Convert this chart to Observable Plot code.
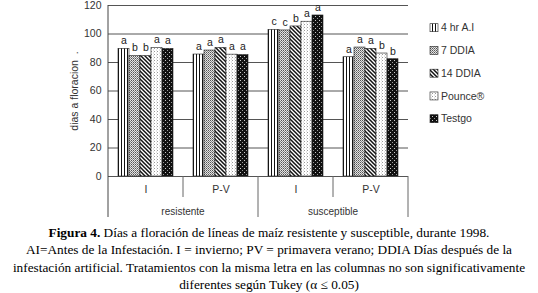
<!DOCTYPE html>
<html><head><meta charset="utf-8">
<script src="https://cdn.jsdelivr.net/npm/d3@7"></script>
<script src="https://cdn.jsdelivr.net/npm/@observablehq/plot@0.6"></script>
<style>
body{margin:0;background:#fff;width:538px;height:293px;overflow:hidden;}
#chart svg{display:block;}
#caption{font-family:"Liberation Serif","DejaVu Serif","Times New Roman",serif;font-size:13.3px;line-height:17.3px;text-align:center;color:#000;width:538px;margin:0;white-space:nowrap;}
</style></head>
<body>
<div id="chart"></div>
<div id="caption"><b>Figura 4.</b> Días a floración de líneas de maíz resistente y susceptible, durante 1998.<br>AI=Antes de la Infestación. I = invierno; PV = primavera verano; DDIA Días después de la<br>infestación artificial. Tratamientos con la misma letra en las columnas no son significativamente<br>diferentes según Tukey (α ≤ 0.05)</div>
<script>
const groups = ["resistente", "susceptible"];
const seasons = ["I", "P-V"];
const series = ["4 hr A.I", "7 DDIA", "14 DDIA", "Pounce®", "Testgo"];
const resI = [89.6, 84.5, 84.5, 90.2, 89.5];
const resPV = [85.6, 88.4, 90.2, 85.5, 85.2];
const susI = [102.9, 102.5, 105.3, 108.6, 113.0];
const susPV = [83.7, 90.5, 89.6, 86.3, 82.3];
const lettersResI = ["a", "b", "b", "a", "a"];
const lettersResPV = ["a", "a", "a", "a", "a"];
const lettersSusI = ["c", "c", "b", "a", "a"];
const lettersSusPV = ["a", "a", "a", "b", "b"];
const yTicks = [0, 20, 40, 60, 80, 100, 120];

const blocks = [
  {group: "resistente", season: "I", values: resI, letters: lettersResI},
  {group: "resistente", season: "P-V", values: resPV, letters: lettersResPV},
  {group: "susceptible", season: "I", values: susI, letters: lettersSusI},
  {group: "susceptible", season: "P-V", values: susPV, letters: lettersSusPV}
];
const data = blocks.flatMap(b => series.map((s, i) => ({
  cat: b.group + "|" + b.season, group: b.group, season: b.season,
  series: s, value: b.values[i], letter: b.letters[i]
})));
const cats = blocks.map(b => b.group + "|" + b.season);

const sans = "'Liberation Sans', Arial, sans-serif";
const marks = [
  Plot.gridY(yTicks, {stroke: "#555", strokeOpacity: 1, strokeWidth: 1}),
  Plot.axisY({ticks: yTicks, tickSize: 0, tickPadding: 7, fontSize: 10.5, fill: "#333",
    label: "dias a floracion\u00a0\u00a0.", labelAnchor: "center", labelArrow: "none", labelOffset: 38}),
  Plot.axisFx({anchor: "bottom", tickSize: 0, tickPadding: 9, fontSize: 10.5, fill: "#333", label: null,
    tickFormat: d => d.split("|")[1]})
];
series.forEach((s, i) => {
  marks.push(Plot.barY(data.filter(d => d.series === s), {
    fx: "cat", x: "series", y: "value", fill: `url(#pat${i})`, stroke: "#222", strokeWidth: 0.6
  }));
});
marks.push(Plot.text(data, {fx: "cat", x: "series", y: "value", text: "letter", dy: -8,
  fontSize: 10.5, fill: "#222", fontFamily: sans}));

const chart = Plot.plot({
  width: 538, height: 224,
  marginLeft: 107, marginRight: 130, marginTop: 5, marginBottom: 48,
  style: {fontFamily: sans, background: "#fff", overflow: "visible"},
  fx: {domain: cats, padding: 0, label: null, axis: null},
  x: {domain: series, paddingInner: 0, paddingOuter: 0.74, axis: null},
  y: {domain: [0, 120], axis: null, label: null},
  marks
});
document.getElementById("chart").appendChild(chart);

// patterns
const svg = d3.select(chart);
const defs = svg.insert("defs", ":first-child");
let p = defs.append("pattern").attr("id", "pat0").attr("patternUnits", "userSpaceOnUse").attr("width", 3).attr("height", 3);
p.append("rect").attr("width", 3).attr("height", 3).attr("fill", "#fff");
p.append("rect").attr("width", 1).attr("height", 3).attr("fill", "#111");
p = defs.append("pattern").attr("id", "pat1").attr("patternUnits", "userSpaceOnUse").attr("width", 2).attr("height", 2);
p.append("rect").attr("width", 2).attr("height", 2).attr("fill", "#e4e4e4");
p.append("rect").attr("width", 1).attr("height", 1).attr("fill", "#555");
p.append("rect").attr("x", 1).attr("y", 1).attr("width", 1).attr("height", 1).attr("fill", "#888");
p = defs.append("pattern").attr("id", "pat2").attr("patternUnits", "userSpaceOnUse").attr("width", 4).attr("height", 4);
p.append("rect").attr("width", 4).attr("height", 4).attr("fill", "#fff");
p.append("path").attr("d", "M-1,-1L5,5M-1,3L1,5M3,-1L5,1").attr("stroke", "#111").attr("stroke-width", 1.5);
p = defs.append("pattern").attr("id", "pat3").attr("patternUnits", "userSpaceOnUse").attr("width", 3).attr("height", 3);
p.append("rect").attr("width", 3).attr("height", 3).attr("fill", "#fff");
p.append("rect").attr("width", 1).attr("height", 1).attr("fill", "#999");
p.append("rect").attr("x", 2).attr("y", 1.5).attr("width", 1).attr("height", 1).attr("fill", "#ccc");
p = defs.append("pattern").attr("id", "pat4").attr("patternUnits", "userSpaceOnUse").attr("width", 4).attr("height", 4);
p.append("rect").attr("width", 4).attr("height", 4).attr("fill", "#111");
p.append("rect").attr("width", 1).attr("height", 1).attr("fill", "#ccc");
p.append("rect").attr("x", 2).attr("y", 2).attr("width", 1).attr("height", 1).attr("fill", "#999");

// category dividers and group labels from the fx scale
const fxS = chart.scale("fx");
const yS = chart.scale("y");
const yBase = yS.apply(0);
const yTop = yS.apply(120);
const bw = fxS.bandwidth;
const g = svg.append("g").attr("stroke", "#666").attr("stroke-width", 1);
const left0 = fxS.apply(cats[0]);
g.append("line").attr("x1", left0).attr("x2", left0).attr("y1", yTop).attr("y2", yBase + 41).attr("stroke", "#444");
cats.forEach((c, i) => {
  const xr = fxS.apply(c) + bw;
  const long = (i % 2 === 1);
  g.append("line").attr("x1", xr).attr("x2", xr).attr("y1", yBase).attr("y2", yBase + (long ? 41 : 21));
});
const tg = svg.append("g").attr("font-family", sans).attr("fill", "#333").attr("text-anchor", "middle");
groups.forEach((gr, i) => {
  const xc = fxS.apply(cats[i * 2]) + bw;
  tg.append("text").attr("x", xc).attr("y", yBase + 35).attr("dy", "0.35em")
    .attr("font-size", 10).text(gr);
});

// legend
const lg = svg.append("g").attr("font-family", sans).attr("font-size", 10.5).attr("fill", "#333").attr("text-anchor", "start");
series.forEach((s, i) => {
  const cy = 27.7 + i * 22.75;
  lg.append("rect").attr("x", 430).attr("y", cy - 4).attr("width", 8).attr("height", 8)
    .attr("fill", `url(#pat${i})`).attr("stroke", "#222").attr("stroke-width", 0.6);
  lg.append("text").attr("x", 441).attr("y", cy).attr("dy", "0.35em").attr("text-anchor", "start").text(s);
});
</script>
</body></html>
